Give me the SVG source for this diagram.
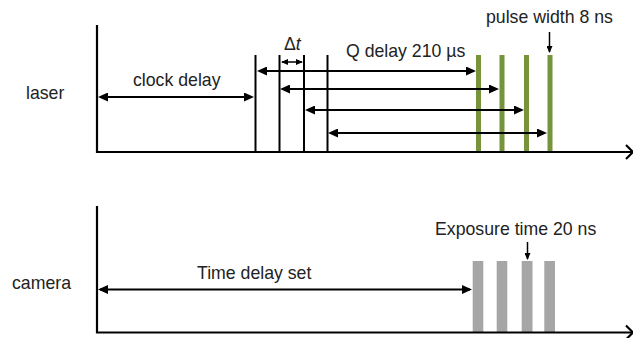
<svg xmlns="http://www.w3.org/2000/svg" width="633" height="338" viewBox="0 0 633 338">
<style>
text{font-family:"Liberation Sans",Arial,sans-serif;font-size:17.7px;fill:#222}
.ax{stroke:#000;stroke-width:2.2;fill:none}
.tk{stroke:#000;stroke-width:2}
.ar{stroke:#000;stroke-width:2;fill:none}
.sm{stroke:#000;stroke-width:1.5;fill:none}
.gr{fill:#77933C}
.gy{fill:#A6A6A6}
</style>
<defs>
<marker id="ah" markerUnits="userSpaceOnUse" markerWidth="10" markerHeight="9" viewBox="0 0 10 9" refX="8" refY="4.5" orient="auto-start-reverse">
<path d="M0,0 L10,4.5 L0,9 z" fill="#000"/>
</marker>
<marker id="as" markerUnits="userSpaceOnUse" markerWidth="7" markerHeight="6" viewBox="0 0 7 6" refX="6" refY="3" orient="auto-start-reverse">
<path d="M0,0 L7,3 L0,6 z" fill="#000"/>
</marker>
</defs>
<rect width="633" height="338" fill="#fff"/>
<g id="laser">
<text x="26" y="99">laser</text>
<polyline class="ax" points="97,25 97,152 633,152"/>
<polyline class="ax" points="626,145 633,152 626,159"/>
<line class="tk" x1="255.5" y1="55" x2="255.5" y2="152"/>
<line class="tk" x1="279.5" y1="55" x2="279.5" y2="152"/>
<line class="tk" x1="304" y1="55" x2="304" y2="152"/>
<line class="tk" x1="327.5" y1="55" x2="327.5" y2="152"/>
<rect class="gr" x="476" y="55" width="5" height="96"/>
<rect class="gr" x="499.5" y="55" width="5" height="96"/>
<rect class="gr" x="524" y="55" width="5" height="96"/>
<rect class="gr" x="547.5" y="55" width="5" height="96"/>
<text x="133" y="86">clock delay</text>
<text x="284" y="50">Δ<tspan font-style="italic">t</tspan></text>
<text x="346" y="57">Q delay 210 µs</text>
<text x="486" y="23">pulse width 8 ns</text>
</g>
<g id="camera">
<text x="12" y="289">camera</text>
<rect class="gy" x="472.7" y="261" width="10.6" height="72"/>
<rect class="gy" x="496.7" y="261" width="10.6" height="72"/>
<rect class="gy" x="521.7" y="261" width="10.8" height="72"/>
<rect class="gy" x="544.3" y="261" width="10.7" height="72"/>
<polyline class="ax" points="97,206 97,332.5 633,332.5"/>
<polyline class="ax" points="626,325.5 633,332.5 626,339.5"/>
<text x="197" y="279">Time delay set</text>
<text x="435" y="235">Exposure time 20 ns</text>
</g>
<g id="connectors">
<line class="ar" x1="100" y1="97" x2="252" y2="97" marker-start="url(#ah)" marker-end="url(#ah)"/>
<line class="ar" x1="259" y1="71" x2="474" y2="71" marker-start="url(#ah)" marker-end="url(#ah)"/>
<line class="ar" x1="282" y1="89" x2="497" y2="89" marker-start="url(#ah)" marker-end="url(#ah)"/>
<line class="ar" x1="307" y1="110" x2="522" y2="110" marker-start="url(#ah)" marker-end="url(#ah)"/>
<line class="ar" x1="330" y1="133" x2="545" y2="133" marker-start="url(#ah)" marker-end="url(#ah)"/>
<line class="sm" x1="282" y1="62" x2="302" y2="62" marker-start="url(#as)" marker-end="url(#as)"/>
<line class="sm" x1="549.5" y1="32" x2="549.5" y2="52" marker-end="url(#as)"/>
<line class="sm" x1="527.5" y1="242" x2="527.5" y2="259" marker-end="url(#as)"/>
<line class="ar" x1="100" y1="289.5" x2="470" y2="289.5" marker-start="url(#ah)" marker-end="url(#ah)"/>
</g>
</svg>
